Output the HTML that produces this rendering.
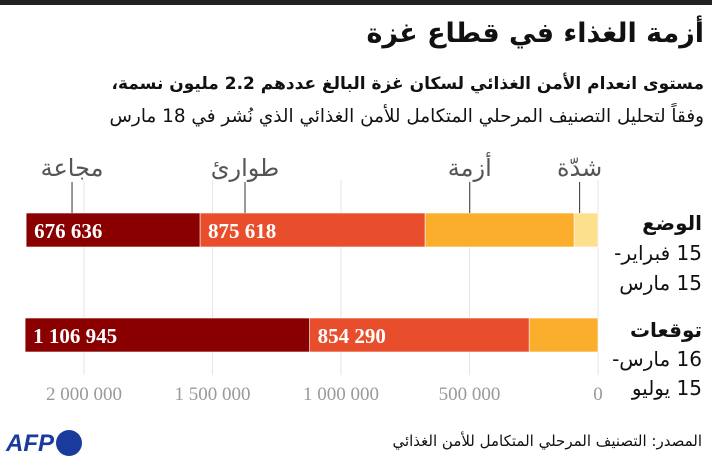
<!DOCTYPE html>
<html><head><meta charset="utf-8">
<style>
body{margin:0;width:712px;height:470px;background:#fff;overflow:hidden;font-family:"Liberation Serif","Noto Serif CJK SC",serif}
.t{position:absolute;direction:rtl;white-space:nowrap;color:#111}
</style></head><body>
<div style="position:absolute;left:0;top:0;width:712px;height:5px;background:#222"></div>
<div class="t" style="right:8px;top:18px;font-size:27px;font-weight:bold;font-family:'DejaVu Sans',sans-serif">أزمة الغذاء في قطاع غزة</div>
<div class="t" style="right:8px;top:74px;font-size:17px;font-weight:bold;font-family:'DejaVu Sans',sans-serif">مستوى انعدام الأمن الغذائي لسكان غزة البالغ عددهم 2.2 مليون نسمة،</div>
<div class="t" style="right:8px;top:106px;font-size:18.4px;font-family:'DejaVu Sans',sans-serif">وفقاً لتحليل التصنيف المرحلي المتكامل للأمن الغذائي الذي نُشر في 18 مارس</div>
<svg id="chart" width="712" height="470" style="position:absolute;left:0;top:0"></svg>
<div class="t" style="right:10px;top:208px;font-size:20px;line-height:30px;font-family:'DejaVu Sans',sans-serif"><b>الوضع</b><br>15 فبراير-<br>15 مارس</div>
<div class="t" style="right:10px;top:316px;font-size:20px;line-height:29px;font-family:'DejaVu Sans',sans-serif"><b>توقعات</b><br>16 مارس-<br>15 يوليو</div>
<div style="position:absolute;left:6px;top:430px;font:italic bold 24px 'Liberation Sans',sans-serif;color:#1a3a9c">AFP<span style="display:inline-block;width:26px;height:26px;border-radius:50%;background:#1a3a9c;vertical-align:-5px;margin-left:2px"></span></div>
<div class="t" style="right:10px;top:432px;font-size:15px;font-family:'DejaVu Sans',sans-serif">المصدر: التصنيف المرحلي المتكامل للأمن الغذائي</div>
<script>
const rows=["current","projection"];
const famine=[676636,1106945];
const emergency=[875618,854290];
const crisis=[580000,268000];
const stressed=[93000,0];
const ticks=[0,500000,1000000,1500000,2000000];
const tickLabels=["0","500 000","1 000 000","1 500 000","2 000 000"];
const phases=["شدّة","أزمة","طوارئ","مجاعة"];
const svg=document.getElementById('chart');const NS='http://www.w3.org/2000/svg';
const x=v=>598-v*0.000257;
const rowY=[213,318],bh=34;
function mk(t,a){const e=document.createElementNS(NS,t);for(const k in a)e.setAttribute(k,a[k]);svg.appendChild(e);return e;}
ticks.forEach((t,i)=>{
 const g=mk('line',{x1:x(t),x2:x(t),y1:180,y2:375,stroke:'#e6e6e6','stroke-width':1});
 
 
 const l=mk('text',{x:x(t),y:400,'text-anchor':'middle','font-size':19,fill:'#999','font-family':'Liberation Serif'});
 l.textContent=tickLabels[i];
 
 
});
const series=[[stressed,'#fde08e','stressed'],[crisis,'#fbae2c','crisis'],[emergency,'#e84e2c','emergency'],[famine,'#8a0000','famine']];
rows.forEach((r,i)=>{
 let acc=0;
 series.forEach(([arr,col,nm])=>{
  const v=arr[i];if(!v)return;
  const x1=x(acc),x0=x(acc+v);
  const b=mk('rect',{x:x0,y:rowY[i],width:x1-x0,height:bh,fill:col,stroke:'#fff','stroke-width':0.6});
  
  
  if(nm==='famine'||nm==='emergency'){
   const t=mk('text',{x:x0+8,y:rowY[i]+25,'font-size':21,'font-weight':'bold',fill:'#fff','font-family':'Liberation Serif'});
   t.textContent=String(v).replace(/\B(?=(\d{3})+(?!\d))/g,' ');
   
   
  }
  acc+=v;
 });
});
const lx=[x(stressed[0]/2+25000),x(stressed[0]+crisis[0]*0.70),x(stressed[0]+crisis[0]+emergency[0]*0.8),x(stressed[0]+crisis[0]+emergency[0]+famine[0]*0.736)];
phases.forEach((p,i)=>{
 const ln=mk('line',{x1:lx[i],x2:lx[i],y1:182,y2:213,stroke:'#333','stroke-width':1});
 
 
 const t=mk('text',{x:lx[i],y:176,'text-anchor':'middle','font-size':24,fill:'#555','font-family':'DejaVu Sans'});
 t.textContent=p;
 
 
});
</script>
</body></html>
